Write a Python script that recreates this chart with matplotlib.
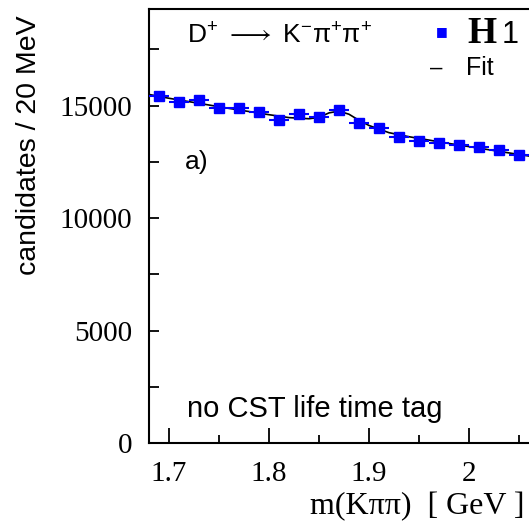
import matplotlib
matplotlib.use("Agg")
import matplotlib.pyplot as plt
from matplotlib.ticker import MultipleLocator

# data
mass = [1.69, 1.71, 1.73, 1.75, 1.77, 1.79, 1.81, 1.83, 1.85, 1.87,
        1.89, 1.91, 1.93, 1.95, 1.97, 1.99, 2.01, 2.03, 2.05]
counts = [15440, 15150, 15250, 14900, 14880, 14740, 14370, 14630, 14480, 14810,
          14250, 14010, 13600, 13450, 13360, 13260, 13150, 13010, 12790]
count_err = [124, 123, 123, 122, 122, 121, 120, 121, 120, 122,
             119, 118, 117, 116, 116, 115, 115, 114, 113]
bin_half = 0.01

fit_x = [1.68, 1.70, 1.72, 1.74, 1.76, 1.78, 1.80, 1.82, 1.84, 1.85, 1.86, 1.87,
         1.88, 1.89, 1.90, 1.92, 1.94, 1.96, 1.98, 2.00, 2.02, 2.04, 2.06]
fit_y = [15500, 15330, 15180, 15030, 14880, 14740, 14600, 14470, 14420, 14480, 14680, 14760,
         14620, 14350, 14120, 13800, 13620, 13470, 13320, 13180, 13040, 12900, 12760]

x_ticks = [1.7, 1.8, 1.9, 2.0]
x_ticklabels = ['1.7', '1.8', '1.9', '2']

plt.rcParams['mathtext.fontset'] = 'custom'
plt.rcParams['mathtext.rm'] = 'Liberation Sans'
plt.rcParams['mathtext.it'] = 'Liberation Sans'

fig = plt.figure(figsize=(5.29, 5.29), dpi=100)
ax = fig.add_axes([149/529, 1-443/529, 420/529, (443-9)/529])

ax.plot(fit_x, fit_y, color='black', lw=1.2, zorder=2)
ax.errorbar(mass, counts, yerr=count_err, xerr=bin_half, fmt='s', color='#0000ff',
            ms=7, elinewidth=1.5, capsize=0, zorder=3, clip_on=False)

ax.set_xlim(1.68, 2.10)
ax.set_ylim(0, 19300)
ax.xaxis.set_major_locator(MultipleLocator(0.1))
ax.xaxis.set_minor_locator(MultipleLocator(0.05))
ax.yaxis.set_major_locator(MultipleLocator(5000))
ax.yaxis.set_minor_locator(MultipleLocator(2500))
ax.tick_params(axis='both', which='both', direction='in', width=1.3, top=False, right=False)
ax.tick_params(axis='x', which='major', length=11, pad=13)
ax.tick_params(axis='x', which='minor', length=6)
ax.tick_params(axis='y', which='both', length=7, pad=12)
ax.set_xticks(x_ticks)
ax.set_xticklabels(x_ticklabels)
for lab in ax.get_xticklabels() + ax.get_yticklabels():
    lab.set_fontfamily('Liberation Serif')
    lab.set_fontsize(21)
for sp in ax.spines.values():
    sp.set_linewidth(1.5)

fig.text(29/529, 1-145/529, 'candidates / 20 MeV', rotation=90, ha='center', va='center',
         fontsize=20.5, family='Liberation Sans')
fig.text(524/529, 1-507/529, 'm(Kππ)  [ GeV ]', ha='right', va='center',
         fontsize=23, family='Liberation Serif')
fig.text(187/529, 1-409/529, 'no CST life time tag', ha='left', va='center',
         fontsize=21, family='Liberation Sans')
fig.text(185/529, 1-162/529, 'a)', ha='left', va='center', fontsize=19, family='Liberation Sans')
fig.text(187/529, 1-44/529, r'$\mathrm{D^{+}\ \longrightarrow\ K^{-}\pi^{+}\pi^{+}}$', ha='left',
         va='baseline', fontsize=19)
fig.text(442/529, 1-32/529, '■', color='#0000ff', ha='center', va='center', fontsize=9,
         family='DejaVu Sans')
fig.text(467/529, 1-43/529, 'H', ha='left', va='baseline', fontsize=27, weight='bold',
         family='Liberation Serif')
fig.text(502/529, 1-43/529, '1', ha='left', va='baseline', fontsize=22,
         family='Liberation Sans')
fig.text(436/529, 1-68/529, '–', ha='center', va='center', fontsize=16, family='Liberation Sans')
fig.text(466/529, 1-68/529, 'Fit', ha='left', va='center', fontsize=18, family='Liberation Sans')

fig.savefig('out.png', dpi=100)
